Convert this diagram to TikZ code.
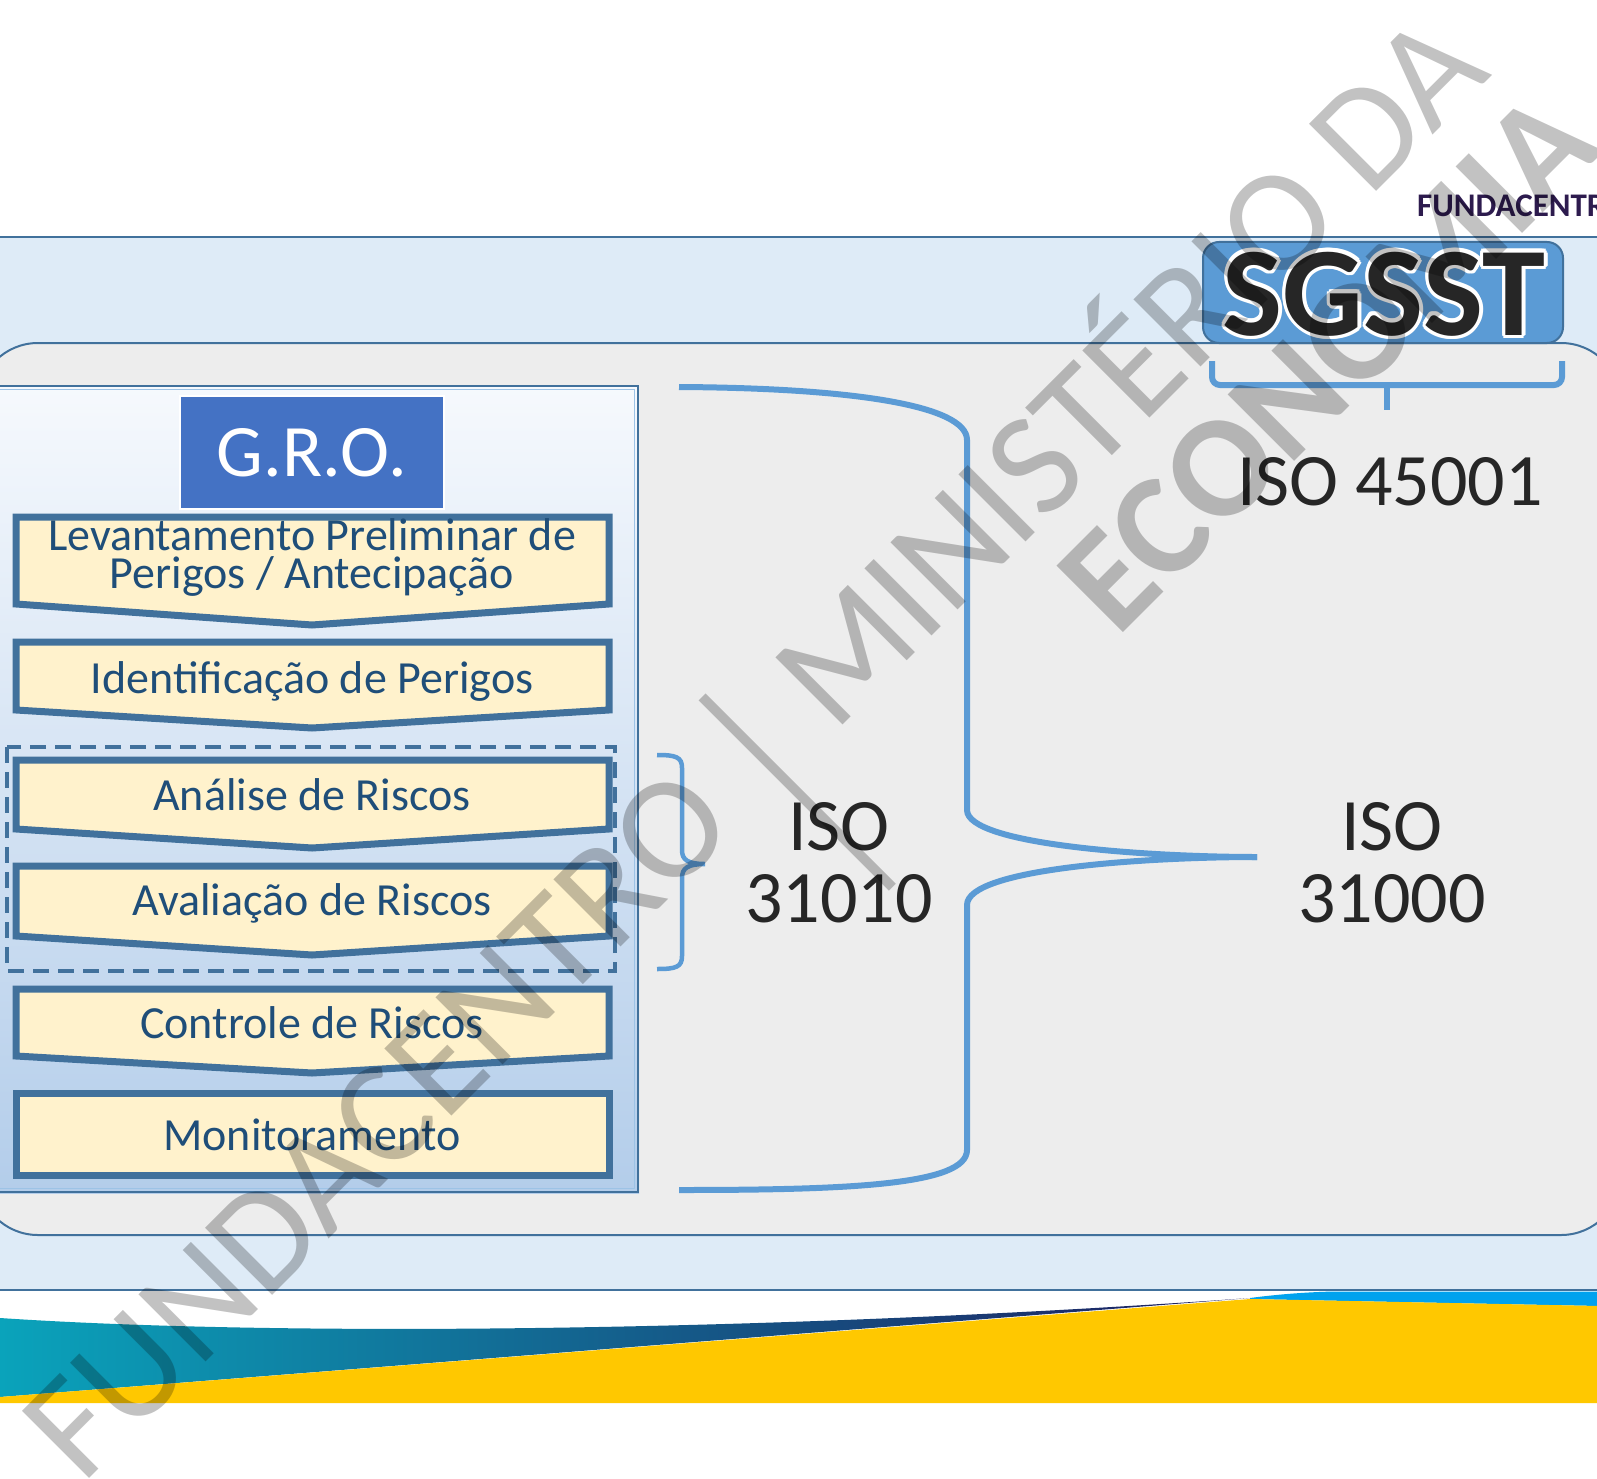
\documentclass[tikz,border=0pt]{standalone}
\usepackage{fontspec}
\setmainfont{Carlito}
\usepackage{graphicx}
\definecolor{bandfill}{HTML}{DEEBF7}
\definecolor{edgeblue}{HTML}{41719C}
\definecolor{panelgray}{HTML}{EDEDED}
\definecolor{braceblue}{HTML}{5B9BD5}
\definecolor{grofill}{HTML}{4472C4}
\definecolor{stepfill}{HTML}{FFF2CC}
\definecolor{steptext}{HTML}{1F4E79}
\definecolor{isotext}{HTML}{262626}
\definecolor{logotext}{HTML}{2D1B4E}
\definecolor{swteal}{HTML}{0AA3BB}
\definecolor{swmid}{HTML}{0F6E96}
\definecolor{swnavy}{HTML}{1E1C5E}
\definecolor{swazure}{HTML}{00A2EE}
\definecolor{swyellow}{HTML}{FFC800}
\definecolor{paneltop}{HTML}{F6F9FD}
\definecolor{panelbottom}{HTML}{B3CDEA}
\definecolor{panelinner}{HTML}{9DC3E6}
% tall separator bar used in the watermark line
\newcommand\wmbar{\raisebox{-1.02em}{\scalebox{1}[2.05]{\raisebox{\depth}{|}}}}
\begin{document}
\begin{tikzpicture}[x=1pt,y=-1pt,
  stepbox/.style={draw=edgeblue, line width=7pt, fill=stepfill, line join=miter},
  steplabel/.style={font=\fontsize{46}{46}\selectfont, text=steptext, anchor=base, inner sep=0pt},
  isolabel/.style={font=\fontsize{74}{74}\selectfont, text=isotext, anchor=base, inner sep=0pt},
  sgsstlabel/.style={font=\bfseries\fontsize{127}{127}\selectfont, text=isotext, anchor=base, inner sep=0pt},
  bracestroke/.style={draw=braceblue, line width=6pt, line cap=butt},
  watermark/.style={text=black, text opacity=0.24, inner sep=0pt, font=\fontsize{148}{148}\selectfont}]
\useasboundingbox (0,0) rectangle (1597,1479);
\clip (0,0) rectangle (1597,1479);
\fill[white] (0,0) rectangle (1597,1479);

% outer light-blue band
\fill[bandfill] (-10,237) rectangle (1607,1290);
\draw[edgeblue, line width=2.5pt] (-10,237) -- (1607,237);
\draw[edgeblue, line width=2.5pt] (-10,1290) -- (1607,1290);

% grey rounded panel
\draw[edgeblue, line width=2pt, fill=panelgray, rounded corners=60pt] (-22,343) rectangle (1621,1235);

% G.R.O. panel with gradient and double border
\shade[top color=paneltop, bottom color=panelbottom] (-10,385) rectangle (639,1193);
\draw[edgeblue, line width=1.8pt] (-10,386) rectangle (638,1192);
\draw[panelinner, line width=1.5pt] (-10,389.5) rectangle (634.5,1188.5);

\node[fill=grofill, draw=white, line width=2pt, minimum width=264pt, minimum height=113pt,
      inner sep=0pt, text=white, font=\fontsize{74}{74}\selectfont] (gro) at (312,452.5) {G.R.O.};

% process steps (chevrons pointing down)
\foreach \t/\b/\p in {517/604/625, 642/710/728, 760/829/848, 866/936/955, 989/1056/1073}
  \draw[stepbox] (16,\t) -- (609,\t) -- (609,\b) -- (312,\p) -- (16,\b) -- cycle;
\draw[stepbox] (16,1093) rectangle (609,1175);

\node[steplabel] (lev1) at (312,550) {Levantamento Preliminar de};
\node[steplabel] (lev2) at (312,588) {Perigos / Antecipação};
\node[steplabel] (ident) at (312,693) {Identificação de Perigos};
\node[steplabel] (analise) at (312,810) {Análise de Riscos};
\node[steplabel] (avalia) at (312,915) {Avaliação de Riscos};
\node[steplabel] (controle) at (312,1038) {Controle de Riscos};
\node[steplabel] (monit) at (312,1150) {Monitoramento};

% dashed group around analysis and evaluation
\draw[edgeblue, line width=4pt, dash pattern=on 16pt off 9pt] (7,747) rectangle (615,971);

% small brace for ISO 31010
\draw[braceblue, line width=4.5pt]
  (657,755) .. controls (676,755) and (682,757) .. (682,768) -- (682,850)
  .. controls (682,860) and (688,864) .. (705,864)
  .. controls (688,864) and (682,868) .. (682,878) -- (682,956)
  .. controls (682,967) and (676,969) .. (657,969);

\node[isolabel] (iso31010a) at (839,850) {ISO};
\node[isolabel] (iso31010b) at (839,922) {31010};

% large brace for ISO 31000
\draw[bracestroke]
  (679,387) .. controls (850,388) and (967,405) .. (967,440) -- (967,810)
  .. controls (967,845) and (1150,857) .. (1257,857);
\draw[bracestroke]
  (1257,857) .. controls (1150,857) and (967,868) .. (967,905) -- (967,1150)
  .. controls (967,1185) and (850,1190) .. (679,1190);

\node[isolabel] (iso31000a) at (1392,850) {ISO};
\node[isolabel] (iso31000b) at (1392,922) {31000};

% SGSST title box and its bracket
\node[draw=edgeblue, line width=2pt, fill=braceblue, rounded corners=16pt,
      minimum width=360pt, minimum height=101pt, inner sep=0pt] (sgsstbox) at (1383,292.5) {};
\foreach \a in {0,30,...,330}
  \node[sgsstlabel, text=white] (sgsstglow\a) at ([shift={(\a:3.5)}]1384,335) {SGSST};
\node[sgsstlabel] (sgsst) at (1384,335) {SGSST};

\draw[bracestroke, rounded corners=8pt] (1212,361) -- (1212,385) -- (1562,385) -- (1562,361);
\draw[bracestroke] (1387,384) -- (1387,410);

\node[isolabel] (iso45001) at (1390,505) {ISO 45001};

% footer swoosh
\shade[left color=swteal, middle color=swmid, right color=swnavy]
  (0,1318) .. controls (300,1338) and (800,1330) .. (1250,1298) -- (0,1397) -- cycle;
\fill[swazure] (1250,1298) .. controls (1280,1294) and (1310,1292) .. (1334,1291.5)
  -- (1600,1291.5) -- (1600,1306) -- (1250,1299) -- cycle;
\fill[swyellow] (0,1397) -- (1250,1299) -- (1600,1306) -- (1600,1403) -- (0,1403) -- cycle;

% header logotype
\node[anchor=base west, inner sep=0pt, font=\bfseries\fontsize{33}{33}\selectfont, text=logotext]
  (fundlogo) at (1417,217) {FUNDACENTRO};

% diagonal watermark
\node[watermark, anchor=base, rotate=45] (wmline1) at (788,780) {FUNDACENTRO \wmbar{} MINISTÉRIO DA};
\node[watermark, font=\bfseries\fontsize{145}{145}\selectfont, anchor=base west, rotate=45]
  (wmline2) at (1117,639) {ECONOMIA};
\end{tikzpicture}
\end{document}
